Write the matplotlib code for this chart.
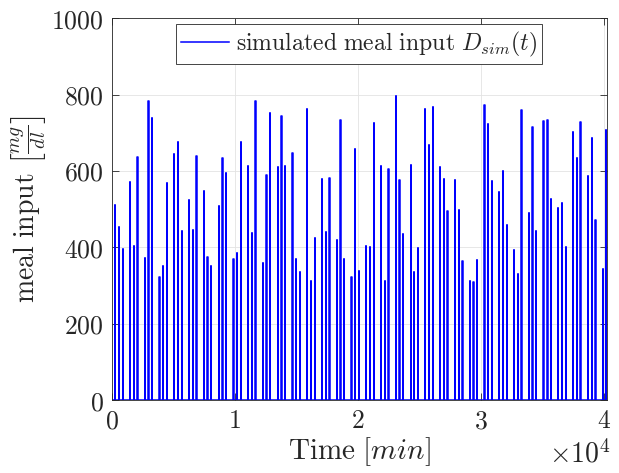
import matplotlib
matplotlib.use('Agg')
import matplotlib.pyplot as plt
from matplotlib.ticker import FuncFormatter
import numpy as np

plt.rcParams['mathtext.fontset'] = 'cm'
plt.rcParams['font.family'] = 'serif'

# meal times (min) and meal amounts (mg/dl)
meal_t = [268, 594, 919, 1488, 1814, 2084, 2680, 2978, 3277, 3873, 4170, 4469,
          5065, 5391, 5688, 6285, 6583, 6881, 7477, 7775, 8073, 8696, 8995, 9293,
          9889, 10160, 10485, 11081, 11380, 11677, 12274, 12571, 12870, 13493,
          13792, 14089, 14685, 14984, 15282, 15878, 16177, 16501, 17070, 17396,
          17693, 18290, 18587, 18886, 19482, 19781, 20105, 20674, 20973, 21298,
          21894, 22193, 22490, 23114, 23384, 23682, 24306, 24577, 24875, 25471,
          25770, 26094, 26690, 26988, 27287, 27883, 28208, 28506, 29102, 29400,
          29698, 30295, 30594, 30918, 31488, 31787, 32111, 32681, 33006, 33304,
          33900, 34199, 34497, 35093, 35419, 35690, 36285, 36611, 36909, 37506,
          37804, 38102, 38698, 39024, 39322, 39918, 40215]
meal_d = [510, 453, 395, 571, 403, 636, 372, 784, 739, 321, 350, 568, 644, 677,
          442, 525, 445, 640, 547, 375, 352, 509, 633, 594, 370,
          384, 677, 613, 437, 783, 359, 590, 753, 610, 744, 613, 647, 369, 335,
          762, 311, 424, 578, 441, 581, 418, 733, 369, 322, 658, 337,
          403, 400, 725, 612, 311, 605, 797, 577, 434, 616, 335, 398, 763, 669,
          768, 610, 580, 496, 577, 498, 363, 313, 309, 367, 772,
          724, 575, 546, 599, 459, 394, 329, 761, 490, 715, 444, 730, 734, 527,
          503, 517, 401, 701, 633, 729, 588, 687, 472, 342, 708]
meal_len = 20  # pulse duration in min

# build the pulse signal D_sim(t)
tt = np.asarray(meal_t, dtype=float)
dd = np.asarray(meal_d, dtype=float)
t = np.column_stack([tt, tt, tt + meal_len, tt + meal_len]).ravel()
D = np.column_stack([np.zeros_like(dd), dd, dd, np.zeros_like(dd)]).ravel()
t = np.concatenate([[0], t, [40250]])
D = np.concatenate([[0], D, [0]])

axcol = '#262626'
fig = plt.figure(figsize=(6.19, 4.73), dpi=100)
ax = fig.add_axes([0.1805, 0.1543, 0.7996, 0.807])
ax.plot(t, D, color='b', lw=1.1, label=r'$\mathrm{simulated\ meal\ input}\ D_{sim}(t)$')

ax.set_xlim(0, 40250)
ax.set_ylim(0, 1000)
ax.set_xticks(np.arange(0, 40001, 10000))
ax.set_yticks(np.arange(0, 1001, 200))
ax.xaxis.set_major_formatter(FuncFormatter(lambda v, p: r'$%g$' % (v / 1e4)))
ax.yaxis.set_major_formatter(FuncFormatter(lambda v, p: r'$%g$' % v))
ax.grid(True, color='#e3e3e3', lw=0.6)
ax.set_axisbelow(True)
ax.tick_params(direction='in', length=5, width=0.6, top=True, right=True,
               labelsize=18.5, colors=axcol, pad=6)
for s in ax.spines.values():
    s.set_color(axcol)
    s.set_linewidth(0.6)

ax.set_xlabel(r'$\mathrm{Time}\ [min]$', fontsize=21, color=axcol, labelpad=1)
ax.set_ylabel(r'$\mathrm{meal\ input}\ \left[\frac{mg}{dl}\right]$', fontsize=20,
              color=axcol, labelpad=2)
ax.text(1.008, -0.165, r'$\times 10^4$', transform=ax.transAxes, ha='right',
        va='baseline', fontsize=20, color=axcol)

leg = ax.legend(loc='upper center', bbox_to_anchor=(0.5, 0.984), fontsize=17.1,
                fancybox=False, framealpha=1, edgecolor=axcol,
                handlelength=2.0, handletextpad=0.3, borderpad=0.22,
                borderaxespad=0)
leg.get_frame().set_linewidth(0.6)
for txt in leg.get_texts():
    txt.set_color(axcol)

fig.savefig('out.png', dpi=100)
